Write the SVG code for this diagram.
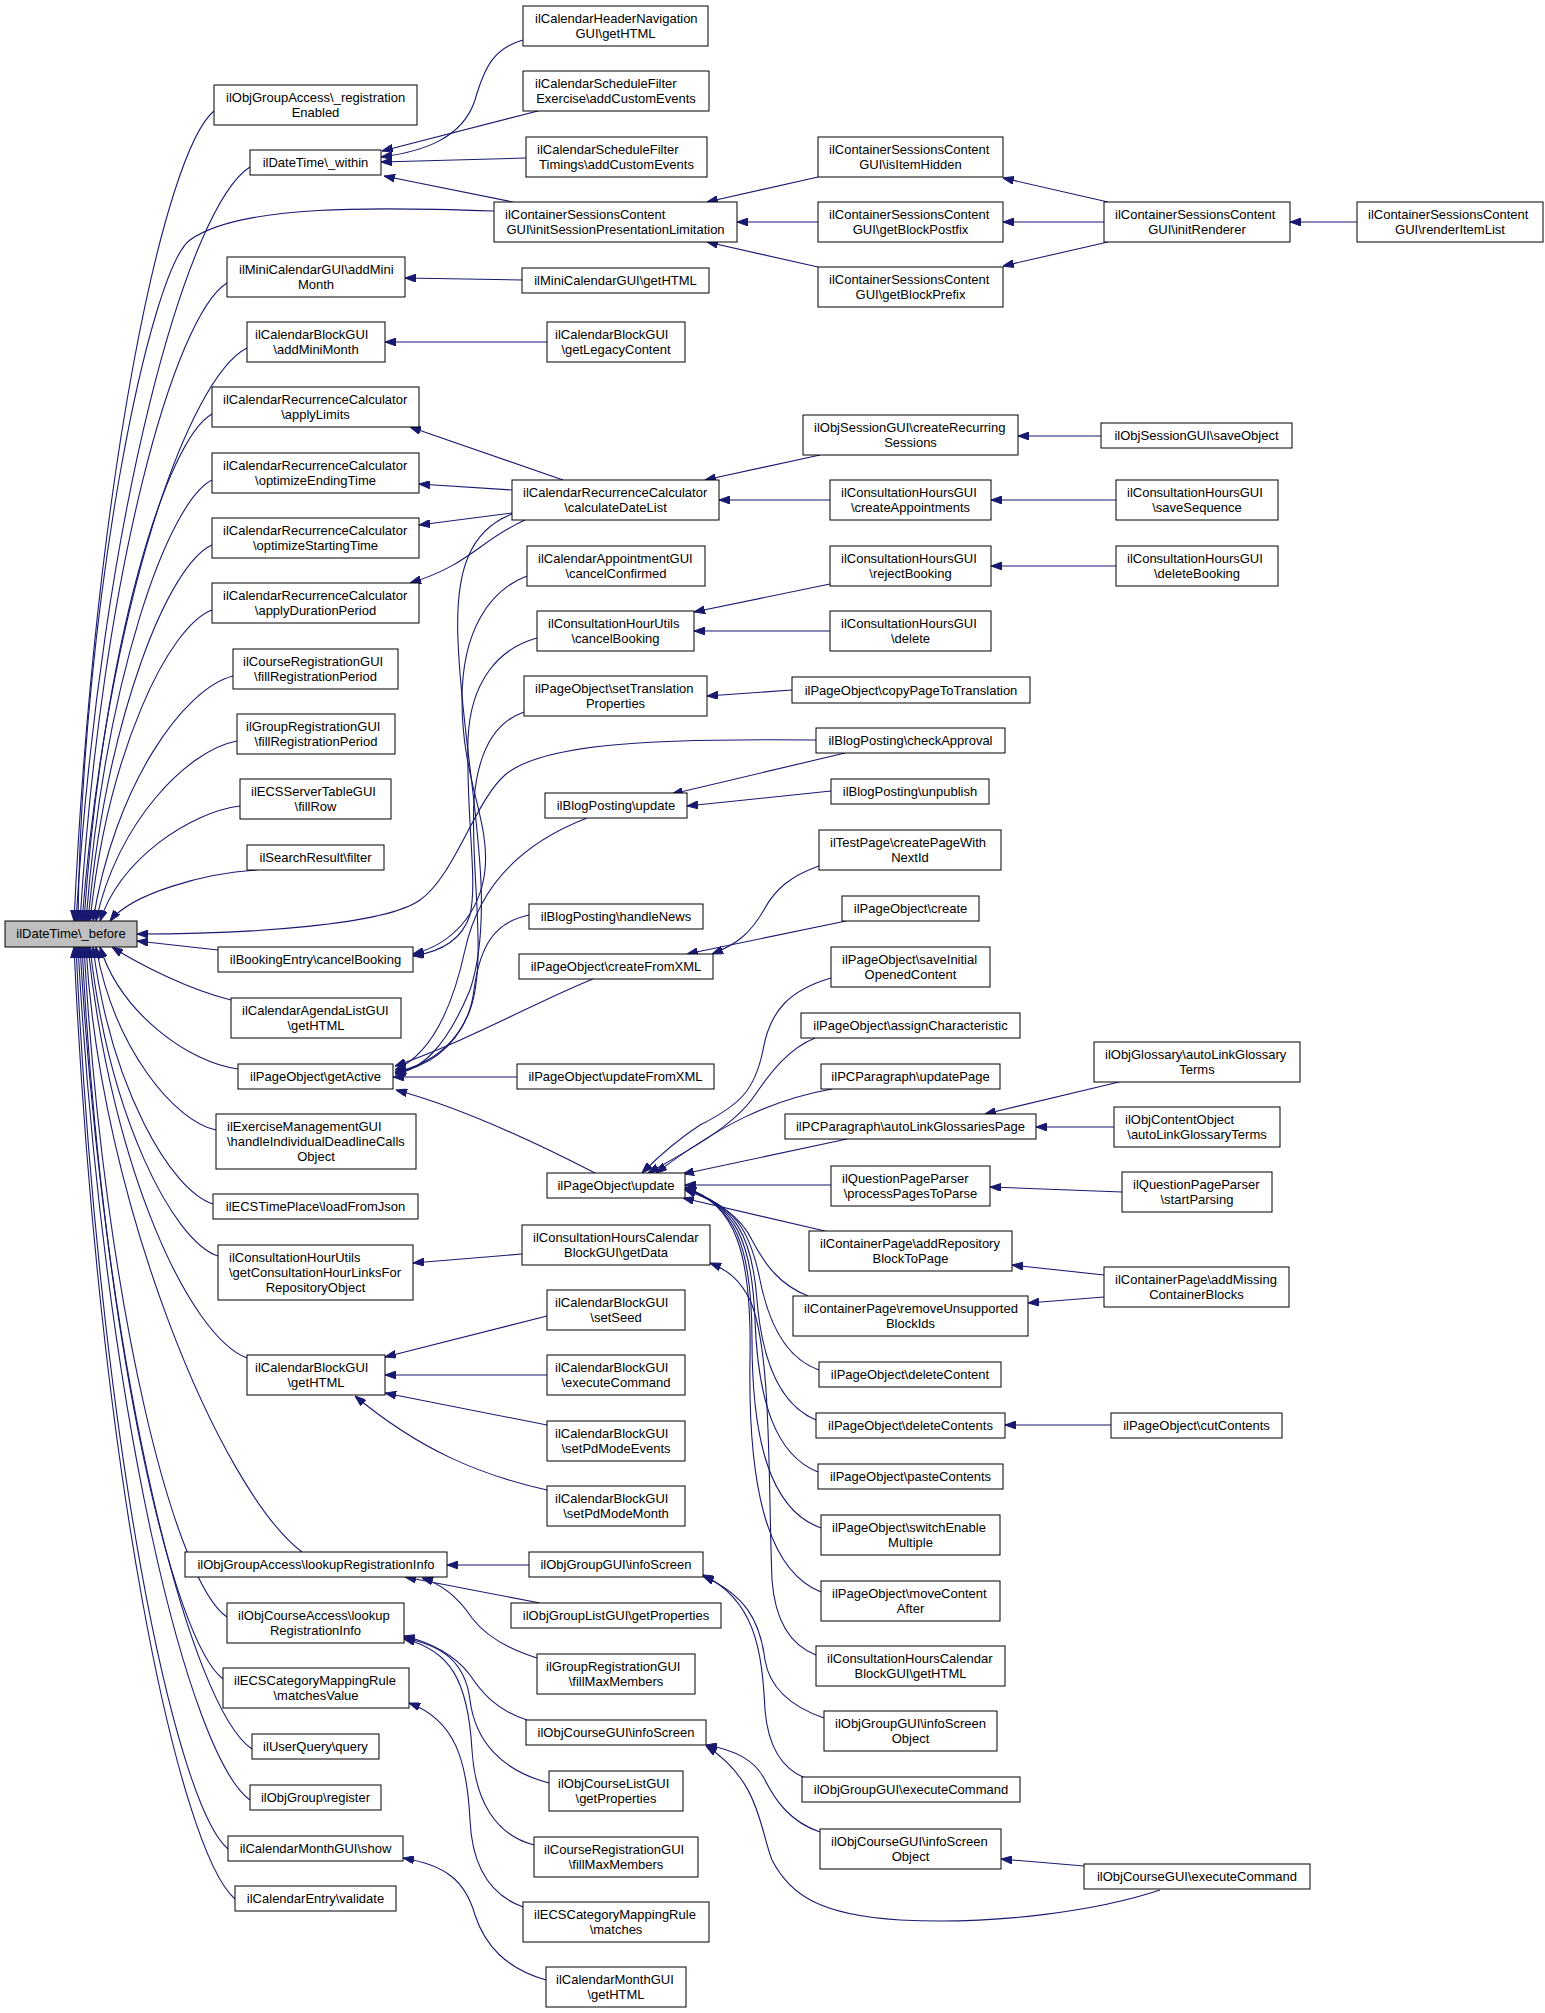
<svg xmlns="http://www.w3.org/2000/svg" width="1545" height="2013" viewBox="0 0 1545 2013">
<defs>
<style>
rect{fill:#fff;stroke:#000;stroke-width:1}
.root rect{fill:#bfbfbf}
text{font-family:"Liberation Sans",Arial,Helvetica,sans-serif;font-size:13px;fill:#000}
.c{text-anchor:middle}
.l{text-anchor:start}
#edges path{fill:none;stroke:#191970;stroke-width:1.1;marker-end:url(#ah)}
</style>
<marker id="ah" viewBox="0 0 11 8" refX="11" refY="4" markerWidth="11" markerHeight="8" markerUnits="userSpaceOnUse" orient="auto"><path d="M0,0 L11,4 L0,8 z" fill="#191970" stroke="#191970" stroke-width="1"/></marker>
</defs>
<rect x="0" y="0" width="1545" height="2013" style="fill:#fff;stroke:none"/>
<g id="edges">
<path d="M214,111 C165,151 95,475 74,921"/>
<path d="M250,167 C189,205 102,506 76,921"/>
<path d="M494,211 C380,207 240,204 190,240 C150,269 82,600 78,921"/>
<path d="M227,283 C175,315 102,570 80,921"/>
<path d="M247,348 C189,377 107,606 82,921"/>
<path d="M212,414 C167,439 103,642 84,921"/>
<path d="M212,480 C168,502 105,678 86,921"/>
<path d="M212,545 C169,564 107,714 88,921"/>
<path d="M212,610 C169,626 108,750 90,921"/>
<path d="M233,676 C184,688 114,786 93,921"/>
<path d="M237,741 C188,750 117,822 96,921"/>
<path d="M240,806 C191,812 121,858 100,921"/>
<path d="M257,870 C206,873 132,893 110,921"/>
<path d="M816,740 C640,738 540,745 505,775 C475,801 455,875 420,900 C385,925 250,934 137,934"/>
<path d="M218,950 L137,941"/>
<path d="M231,1000 C190,990 140,965 112,947"/>
<path d="M238,1069 C190,1063 121,1014 100,947"/>
<path d="M216,1130 C174,1121 114,1048 96,947"/>
<path d="M213,1204 C171,1191 111,1088 93,947"/>
<path d="M218,1256 C173,1241 109,1117 90,947"/>
<path d="M247,1358 C191,1337 112,1173 88,947"/>
<path d="M302,1552 C220,1490 100,1200 86,947"/>
<path d="M227,1617 C177,1584 105,1316 84,947"/>
<path d="M223,1679 C174,1642 103,1350 82,947"/>
<path d="M252,1749 C192,1709 106,1388 80,947"/>
<path d="M250,1800 C190,1757 104,1416 78,947"/>
<path d="M228,1849 C175,1804 99,1443 76,947"/>
<path d="M235,1899 C179,1851 98,1471 74,947"/>
<path d="M523,40 C495,48 485,65 475,100 C462,140 420,152 381,157"/>
<path d="M538,111 L382,151"/>
<path d="M526,158 L381,162"/>
<path d="M513,202 L384,176"/>
<path d="M818,177 L707,202"/>
<path d="M818,222 L737,222"/>
<path d="M818,267 L707,242"/>
<path d="M1108,202 L1003,178"/>
<path d="M1104,222 L1003,222"/>
<path d="M1108,242 L1003,266"/>
<path d="M1357,222 L1290,222"/>
<path d="M522,280 L405,278"/>
<path d="M547,342 L385,342"/>
<path d="M563,480 L410,427"/>
<path d="M512,490 L419,484"/>
<path d="M512,513 L419,525"/>
<path d="M525,520 C480,540 470,565 410,583"/>
<path d="M512,514 C470,530 455,570 458,640 C462,760 500,900 470,990 C445,1050 420,1070 395,1074"/>
<path d="M820,455 L705,480"/>
<path d="M830,500 L719,500"/>
<path d="M1101,436 L1018,436"/>
<path d="M1116,500 L991,500"/>
<path d="M1116,566 L991,566"/>
<path d="M830,584 L694,612"/>
<path d="M830,631 L694,631"/>
<path d="M527,576 C490,590 462,630 462,700 C462,780 490,820 485,870 C480,915 450,945 413,954"/>
<path d="M537,638 C500,648 470,680 468,740 C466,820 478,880 470,915 C462,940 440,952 413,956"/>
<path d="M792,690 L707,696"/>
<path d="M524,712 C495,722 478,750 474,800 C470,870 488,960 470,1010 C455,1050 425,1068 395,1072"/>
<path d="M845,753 L672,794"/>
<path d="M831,791 L687,806"/>
<path d="M587,818 C530,840 480,880 465,950 C452,1010 430,1055 395,1070"/>
<path d="M529,915 C495,922 480,945 474,990 C468,1040 430,1065 395,1072"/>
<path d="M593,979 C540,1000 470,1040 395,1066"/>
<path d="M517,1077 L393,1077"/>
<path d="M595,1173 C560,1155 470,1110 396,1090"/>
<path d="M819,866 C790,876 775,890 765,908 C750,935 735,945 712,954"/>
<path d="M846,921 L687,954"/>
<path d="M831,978 C790,990 770,1010 763,1050 C755,1090 740,1105 700,1125 C680,1138 660,1155 642,1173"/>
<path d="M815,1038 C790,1048 772,1070 755,1095 C735,1125 690,1150 648,1173"/>
<path d="M832,1089 C770,1100 720,1125 656,1173"/>
<path d="M847,1139 L683,1174"/>
<path d="M831,1185 L685,1185"/>
<path d="M825,1231 L683,1198"/>
<path d="M808,1296 C780,1285 765,1265 752,1240 C740,1215 715,1200 685,1190"/>
<path d="M819,1370 C790,1360 770,1330 760,1280 C750,1230 735,1205 685,1189"/>
<path d="M816,1420 C780,1405 762,1360 757,1300 C752,1235 735,1205 685,1189"/>
<path d="M818,1472 C775,1455 758,1400 755,1320 C752,1240 735,1205 685,1188"/>
<path d="M821,1528 C770,1510 752,1440 752,1340 C752,1245 735,1205 685,1188"/>
<path d="M821,1592 C765,1570 748,1480 750,1360 C752,1250 735,1205 685,1187"/>
<path d="M1111,1425 L1005,1425"/>
<path d="M1119,1082 L985,1114"/>
<path d="M1114,1127 L1036,1127"/>
<path d="M1122,1192 L990,1187"/>
<path d="M1104,1275 L1012,1265"/>
<path d="M1104,1297 L1028,1303"/>
<path d="M522,1254 L413,1263"/>
<path d="M816,1655 C790,1645 775,1620 772,1580 C768,1480 772,1350 750,1300 C740,1280 728,1270 710,1263"/>
<path d="M547,1316 L385,1357"/>
<path d="M547,1375 L385,1375"/>
<path d="M547,1425 L385,1393"/>
<path d="M547,1490 C480,1475 420,1450 355,1396"/>
<path d="M529,1565 L447,1565"/>
<path d="M540,1603 L405,1577"/>
<path d="M537,1658 C505,1648 485,1635 472,1618 C460,1600 445,1585 422,1578"/>
<path d="M527,1720 C495,1710 480,1690 470,1675 C455,1655 430,1642 404,1636"/>
<path d="M549,1783 C500,1770 475,1740 470,1700 C465,1660 440,1645 404,1638"/>
<path d="M534,1845 C495,1835 475,1800 472,1750 C468,1680 450,1650 404,1639"/>
<path d="M523,1907 C490,1895 472,1865 470,1820 C467,1760 455,1720 409,1703"/>
<path d="M546,1980 C505,1968 485,1945 475,1915 C465,1880 445,1865 403,1858"/>
<path d="M824,1718 C795,1708 770,1690 765,1660 C760,1620 745,1595 703,1576"/>
<path d="M805,1778 C780,1768 768,1745 765,1710 C762,1650 755,1600 703,1575"/>
<path d="M820,1832 C790,1822 775,1800 765,1780 C755,1760 735,1750 706,1745"/>
<path d="M1160,1890 C1100,1910 1000,1925 900,1920 C820,1915 790,1895 772,1860 C760,1830 760,1780 706,1746"/>
<path d="M1084,1866 L1001,1859"/>
</g>
<g id="n_before" class="root"><rect x="5" y="921" width="132" height="26"/><text class="c" x="71" y="938">ilDateTime\_before</text></g>
<g id="n_regEnabled"><rect x="214" y="85" width="203" height="40"/><text class="l" x="226" y="101.5">ilObjGroupAccess\_registration</text><text class="c" x="315.5" y="116.5">Enabled</text></g>
<g id="n_within"><rect x="250" y="150" width="131" height="25"/><text class="c" x="315.5" y="167">ilDateTime\_within</text></g>
<g id="n_miniAddMini"><rect x="227" y="257" width="178" height="40"/><text class="l" x="239" y="273.5">ilMiniCalendarGUI\addMini</text><text class="c" x="316" y="288.5">Month</text></g>
<g id="n_cbgAddMini"><rect x="247" y="322" width="138" height="40"/><text class="l" x="255" y="338.5">ilCalendarBlockGUI</text><text class="c" x="316" y="353.5">\addMiniMonth</text></g>
<g id="n_applyLimits"><rect x="212" y="387" width="207" height="40"/><text class="l" x="223" y="403.5">ilCalendarRecurrenceCalculator</text><text class="c" x="315.5" y="418.5">\applyLimits</text></g>
<g id="n_optEnd"><rect x="212" y="453" width="207" height="40"/><text class="l" x="223" y="469.5">ilCalendarRecurrenceCalculator</text><text class="c" x="315.5" y="484.5">\optimizeEndingTime</text></g>
<g id="n_optStart"><rect x="212" y="518" width="207" height="40"/><text class="l" x="223" y="534.5">ilCalendarRecurrenceCalculator</text><text class="c" x="315.5" y="549.5">\optimizeStartingTime</text></g>
<g id="n_applyDur"><rect x="212" y="583" width="207" height="40"/><text class="l" x="223" y="599.5">ilCalendarRecurrenceCalculator</text><text class="c" x="315.5" y="614.5">\applyDurationPeriod</text></g>
<g id="n_courseRegPeriod"><rect x="233" y="649" width="165" height="40"/><text class="l" x="243" y="665.5">ilCourseRegistrationGUI</text><text class="c" x="315.5" y="680.5">\fillRegistrationPeriod</text></g>
<g id="n_groupRegPeriod"><rect x="237" y="714" width="158" height="40"/><text class="l" x="246" y="730.5">ilGroupRegistrationGUI</text><text class="c" x="316" y="745.5">\fillRegistrationPeriod</text></g>
<g id="n_ecsFillRow"><rect x="240" y="779" width="151" height="40"/><text class="l" x="251" y="795.5">ilECSServerTableGUI</text><text class="c" x="315.5" y="810.5">\fillRow</text></g>
<g id="n_searchFilter"><rect x="247" y="845" width="137" height="25"/><text class="c" x="315.5" y="862">ilSearchResult\filter</text></g>
<g id="n_bookingCancel"><rect x="218" y="947" width="195" height="25"/><text class="c" x="315.5" y="964">ilBookingEntry\cancelBooking</text></g>
<g id="n_agenda"><rect x="231" y="998" width="170" height="40"/><text class="l" x="242" y="1014.5">ilCalendarAgendaListGUI</text><text class="c" x="316" y="1029.5">\getHTML</text></g>
<g id="n_getActive"><rect x="238" y="1064" width="155" height="25"/><text class="c" x="315.5" y="1081">ilPageObject\getActive</text></g>
<g id="n_exercise"><rect x="216" y="1114" width="200" height="55"/><text class="l" x="227" y="1131">ilExerciseManagementGUI</text><text class="l" x="227" y="1146">\handleIndividualDeadlineCalls</text><text class="c" x="316" y="1161">Object</text></g>
<g id="n_ecsLoad"><rect x="213" y="1194" width="205" height="25"/><text class="c" x="315.5" y="1211">ilECSTimePlace\loadFromJson</text></g>
<g id="n_consLinks"><rect x="218" y="1245" width="195" height="55"/><text class="l" x="229" y="1262">ilConsultationHourUtils</text><text class="l" x="229" y="1277">\getConsultationHourLinksFor</text><text class="c" x="315.5" y="1292">RepositoryObject</text></g>
<g id="n_cbgGetHTML"><rect x="247" y="1355" width="138" height="40"/><text class="l" x="255" y="1371.5">ilCalendarBlockGUI</text><text class="c" x="316" y="1386.5">\getHTML</text></g>
<g id="n_groupLookup"><rect x="185" y="1552" width="262" height="25"/><text class="c" x="316" y="1569">ilObjGroupAccess\lookupRegistrationInfo</text></g>
<g id="n_courseLookup"><rect x="227" y="1603" width="177" height="40"/><text class="l" x="238" y="1619.5">ilObjCourseAccess\lookup</text><text class="c" x="315.5" y="1634.5">RegistrationInfo</text></g>
<g id="n_matchesValue"><rect x="223" y="1668" width="186" height="40"/><text class="l" x="234" y="1684.5">ilECSCategoryMappingRule</text><text class="c" x="316" y="1699.5">\matchesValue</text></g>
<g id="n_userQuery"><rect x="252" y="1734" width="127" height="25"/><text class="c" x="315.5" y="1751">ilUserQuery\query</text></g>
<g id="n_groupRegister"><rect x="250" y="1785" width="131" height="25"/><text class="c" x="315.5" y="1802">ilObjGroup\register</text></g>
<g id="n_monthShow"><rect x="228" y="1836" width="175" height="25"/><text class="c" x="315.5" y="1853">ilCalendarMonthGUI\show</text></g>
<g id="n_entryValidate"><rect x="235" y="1886" width="161" height="25"/><text class="c" x="315.5" y="1903">ilCalendarEntry\validate</text></g>
<g id="n_headerNav"><rect x="523" y="6" width="185" height="40"/><text class="l" x="535" y="22.5">ilCalendarHeaderNavigation</text><text class="c" x="615.5" y="37.5">GUI\getHTML</text></g>
<g id="n_schedExercise"><rect x="523" y="71" width="186" height="40"/><text class="l" x="535" y="87.5">ilCalendarScheduleFilter</text><text class="c" x="616" y="102.5">Exercise\addCustomEvents</text></g>
<g id="n_schedTimings"><rect x="526" y="137" width="181" height="40"/><text class="l" x="537" y="153.5">ilCalendarScheduleFilter</text><text class="c" x="616.5" y="168.5">Timings\addCustomEvents</text></g>
<g id="n_initSession"><rect x="494" y="202" width="243" height="40"/><text class="l" x="505" y="218.5">ilContainerSessionsContent</text><text class="c" x="615.5" y="233.5">GUI\initSessionPresentationLimitation</text></g>
<g id="n_miniGetHTML"><rect x="522" y="268" width="187" height="25"/><text class="c" x="615.5" y="285">ilMiniCalendarGUI\getHTML</text></g>
<g id="n_legacy"><rect x="547" y="322" width="138" height="40"/><text class="l" x="555" y="338.5">ilCalendarBlockGUI</text><text class="c" x="616" y="353.5">\getLegacyContent</text></g>
<g id="n_calcDateList"><rect x="512" y="480" width="207" height="40"/><text class="l" x="523" y="496.5">ilCalendarRecurrenceCalculator</text><text class="c" x="615.5" y="511.5">\calculateDateList</text></g>
<g id="n_cancelConfirmed"><rect x="527" y="546" width="178" height="40"/><text class="l" x="538" y="562.5">ilCalendarAppointmentGUI</text><text class="c" x="616" y="577.5">\cancelConfirmed</text></g>
<g id="n_utilsCancel"><rect x="537" y="611" width="157" height="40"/><text class="l" x="548" y="627.5">ilConsultationHourUtils</text><text class="c" x="615.5" y="642.5">\cancelBooking</text></g>
<g id="n_setTransl"><rect x="524" y="676" width="183" height="40"/><text class="l" x="535" y="692.5">ilPageObject\setTranslation</text><text class="c" x="615.5" y="707.5">Properties</text></g>
<g id="n_blogUpdate"><rect x="545" y="793" width="142" height="25"/><text class="c" x="616" y="810">ilBlogPosting\update</text></g>
<g id="n_handleNews"><rect x="529" y="904" width="174" height="25"/><text class="c" x="616" y="921">ilBlogPosting\handleNews</text></g>
<g id="n_createFromXML"><rect x="519" y="954" width="194" height="25"/><text class="c" x="616" y="971">ilPageObject\createFromXML</text></g>
<g id="n_updateFromXML"><rect x="517" y="1064" width="197" height="25"/><text class="c" x="615.5" y="1081">ilPageObject\updateFromXML</text></g>
<g id="n_pageUpdate"><rect x="547" y="1173" width="138" height="25"/><text class="c" x="616" y="1190">ilPageObject\update</text></g>
<g id="n_chGetData"><rect x="522" y="1225" width="188" height="40"/><text class="l" x="533" y="1241.5">ilConsultationHoursCalendar</text><text class="c" x="616" y="1256.5">BlockGUI\getData</text></g>
<g id="n_setSeed"><rect x="547" y="1290" width="138" height="40"/><text class="l" x="555" y="1306.5">ilCalendarBlockGUI</text><text class="c" x="616" y="1321.5">\setSeed</text></g>
<g id="n_cbgExec"><rect x="547" y="1355" width="138" height="40"/><text class="l" x="555" y="1371.5">ilCalendarBlockGUI</text><text class="c" x="616" y="1386.5">\executeCommand</text></g>
<g id="n_setPdEvents"><rect x="547" y="1421" width="138" height="40"/><text class="l" x="555" y="1437.5">ilCalendarBlockGUI</text><text class="c" x="616" y="1452.5">\setPdModeEvents</text></g>
<g id="n_setPdMonth"><rect x="547" y="1486" width="138" height="40"/><text class="l" x="555" y="1502.5">ilCalendarBlockGUI</text><text class="c" x="616" y="1517.5">\setPdModeMonth</text></g>
<g id="n_groupInfoScreen"><rect x="529" y="1552" width="174" height="25"/><text class="c" x="616" y="1569">ilObjGroupGUI\infoScreen</text></g>
<g id="n_groupListProps"><rect x="511" y="1603" width="210" height="25"/><text class="c" x="616" y="1620">ilObjGroupListGUI\getProperties</text></g>
<g id="n_groupRegMax"><rect x="537" y="1654" width="158" height="40"/><text class="l" x="546" y="1670.5">ilGroupRegistrationGUI</text><text class="c" x="616" y="1685.5">\fillMaxMembers</text></g>
<g id="n_courseInfoScreen"><rect x="526" y="1720" width="180" height="25"/><text class="c" x="616" y="1737">ilObjCourseGUI\infoScreen</text></g>
<g id="n_courseListProps"><rect x="549" y="1771" width="134" height="40"/><text class="l" x="558" y="1787.5">ilObjCourseListGUI</text><text class="c" x="616" y="1802.5">\getProperties</text></g>
<g id="n_courseRegMax"><rect x="534" y="1837" width="164" height="40"/><text class="l" x="544" y="1853.5">ilCourseRegistrationGUI</text><text class="c" x="616" y="1868.5">\fillMaxMembers</text></g>
<g id="n_matches"><rect x="523" y="1902" width="186" height="40"/><text class="l" x="534" y="1918.5">ilECSCategoryMappingRule</text><text class="c" x="616" y="1933.5">\matches</text></g>
<g id="n_monthGetHTML"><rect x="546" y="1967" width="140" height="40"/><text class="l" x="556" y="1983.5">ilCalendarMonthGUI</text><text class="c" x="616" y="1998.5">\getHTML</text></g>
<g id="n_isItemHidden"><rect x="818" y="137" width="185" height="40"/><text class="l" x="829" y="153.5">ilContainerSessionsContent</text><text class="c" x="910.5" y="168.5">GUI\isItemHidden</text></g>
<g id="n_getBlockPostfix"><rect x="818" y="202" width="185" height="40"/><text class="l" x="829" y="218.5">ilContainerSessionsContent</text><text class="c" x="910.5" y="233.5">GUI\getBlockPostfix</text></g>
<g id="n_getBlockPrefix"><rect x="818" y="267" width="185" height="40"/><text class="l" x="829" y="283.5">ilContainerSessionsContent</text><text class="c" x="910.5" y="298.5">GUI\getBlockPrefix</text></g>
<g id="n_createRecurring"><rect x="803" y="415" width="215" height="40"/><text class="l" x="814" y="431.5">ilObjSessionGUI\createRecurring</text><text class="c" x="910.5" y="446.5">Sessions</text></g>
<g id="n_createAppointments"><rect x="830" y="480" width="161" height="40"/><text class="l" x="841" y="496.5">ilConsultationHoursGUI</text><text class="c" x="910.5" y="511.5">\createAppointments</text></g>
<g id="n_rejectBooking"><rect x="830" y="546" width="161" height="40"/><text class="l" x="841" y="562.5">ilConsultationHoursGUI</text><text class="c" x="910.5" y="577.5">\rejectBooking</text></g>
<g id="n_chDelete"><rect x="830" y="611" width="161" height="40"/><text class="l" x="841" y="627.5">ilConsultationHoursGUI</text><text class="c" x="910.5" y="642.5">\delete</text></g>
<g id="n_copyPage"><rect x="792" y="677" width="238" height="26"/><text class="c" x="911" y="694.5">ilPageObject\copyPageToTranslation</text></g>
<g id="n_checkApproval"><rect x="816" y="728" width="189" height="25"/><text class="c" x="910.5" y="745">ilBlogPosting\checkApproval</text></g>
<g id="n_unpublish"><rect x="831" y="779" width="158" height="25"/><text class="c" x="910" y="796">ilBlogPosting\unpublish</text></g>
<g id="n_createPageWithNextId"><rect x="819" y="830" width="182" height="40"/><text class="l" x="830" y="846.5">ilTestPage\createPageWith</text><text class="c" x="910" y="861.5">NextId</text></g>
<g id="n_pageCreate"><rect x="842" y="896" width="137" height="25"/><text class="c" x="910.5" y="913">ilPageObject\create</text></g>
<g id="n_saveInitial"><rect x="831" y="947" width="159" height="40"/><text class="l" x="842" y="963.5">ilPageObject\saveInitial</text><text class="c" x="910.5" y="978.5">OpenedContent</text></g>
<g id="n_assignChar"><rect x="801" y="1013" width="219" height="25"/><text class="c" x="910.5" y="1030">ilPageObject\assignCharacteristic</text></g>
<g id="n_pcUpdatePage"><rect x="821" y="1064" width="179" height="25"/><text class="c" x="910.5" y="1081">ilPCParagraph\updatePage</text></g>
<g id="n_autoLinkPage"><rect x="785" y="1114" width="251" height="25"/><text class="c" x="910.5" y="1131">ilPCParagraph\autoLinkGlossariesPage</text></g>
<g id="n_processPages"><rect x="831" y="1166" width="159" height="40"/><text class="l" x="842" y="1182.5">ilQuestionPageParser</text><text class="c" x="910.5" y="1197.5">\processPagesToParse</text></g>
<g id="n_addRepoBlock"><rect x="809" y="1231" width="203" height="40"/><text class="l" x="820" y="1247.5">ilContainerPage\addRepository</text><text class="c" x="910.5" y="1262.5">BlockToPage</text></g>
<g id="n_removeUnsupported"><rect x="793" y="1296" width="235" height="40"/><text class="l" x="804" y="1312.5">ilContainerPage\removeUnsupported</text><text class="c" x="910.5" y="1327.5">BlockIds</text></g>
<g id="n_deleteContent"><rect x="819" y="1362" width="182" height="25"/><text class="c" x="910" y="1379">ilPageObject\deleteContent</text></g>
<g id="n_deleteContents"><rect x="816" y="1413" width="189" height="25"/><text class="c" x="910.5" y="1430">ilPageObject\deleteContents</text></g>
<g id="n_pasteContents"><rect x="818" y="1464" width="185" height="25"/><text class="c" x="910.5" y="1481">ilPageObject\pasteContents</text></g>
<g id="n_switchEnable"><rect x="821" y="1515" width="179" height="40"/><text class="l" x="832" y="1531.5">ilPageObject\switchEnable</text><text class="c" x="910.5" y="1546.5">Multiple</text></g>
<g id="n_moveContent"><rect x="821" y="1581" width="179" height="40"/><text class="l" x="832" y="1597.5">ilPageObject\moveContent</text><text class="c" x="910.5" y="1612.5">After</text></g>
<g id="n_chGetHTML"><rect x="816" y="1646" width="189" height="40"/><text class="l" x="827" y="1662.5">ilConsultationHoursCalendar</text><text class="c" x="910.5" y="1677.5">BlockGUI\getHTML</text></g>
<g id="n_groupInfoObj"><rect x="824" y="1711" width="173" height="40"/><text class="l" x="835" y="1727.5">ilObjGroupGUI\infoScreen</text><text class="c" x="910.5" y="1742.5">Object</text></g>
<g id="n_groupExec"><rect x="802" y="1777" width="218" height="25"/><text class="c" x="911" y="1794">ilObjGroupGUI\executeCommand</text></g>
<g id="n_courseInfoObj"><rect x="820" y="1829" width="181" height="40"/><text class="l" x="831" y="1845.5">ilObjCourseGUI\infoScreen</text><text class="c" x="910.5" y="1860.5">Object</text></g>
<g id="n_initRenderer"><rect x="1104" y="202" width="186" height="40"/><text class="l" x="1115" y="218.5">ilContainerSessionsContent</text><text class="c" x="1197" y="233.5">GUI\initRenderer</text></g>
<g id="n_saveObject"><rect x="1101" y="423" width="191" height="25"/><text class="c" x="1196.5" y="440">ilObjSessionGUI\saveObject</text></g>
<g id="n_saveSequence"><rect x="1116" y="480" width="162" height="40"/><text class="l" x="1127" y="496.5">ilConsultationHoursGUI</text><text class="c" x="1197" y="511.5">\saveSequence</text></g>
<g id="n_deleteBooking"><rect x="1116" y="546" width="162" height="40"/><text class="l" x="1127" y="562.5">ilConsultationHoursGUI</text><text class="c" x="1197" y="577.5">\deleteBooking</text></g>
<g id="n_glossaryTerms"><rect x="1094" y="1042" width="206" height="40"/><text class="l" x="1105" y="1058.5">ilObjGlossary\autoLinkGlossary</text><text class="c" x="1197" y="1073.5">Terms</text></g>
<g id="n_contentObjTerms"><rect x="1114" y="1107" width="166" height="40"/><text class="l" x="1125" y="1123.5">ilObjContentObject</text><text class="c" x="1197" y="1138.5">\autoLinkGlossaryTerms</text></g>
<g id="n_startParsing"><rect x="1122" y="1172" width="150" height="40"/><text class="l" x="1133" y="1188.5">ilQuestionPageParser</text><text class="c" x="1197" y="1203.5">\startParsing</text></g>
<g id="n_addMissing"><rect x="1104" y="1267" width="185" height="40"/><text class="l" x="1115" y="1283.5">ilContainerPage\addMissing</text><text class="c" x="1196.5" y="1298.5">ContainerBlocks</text></g>
<g id="n_cutContents"><rect x="1111" y="1413" width="171" height="25"/><text class="c" x="1196.5" y="1430">ilPageObject\cutContents</text></g>
<g id="n_courseExec"><rect x="1084" y="1864" width="226" height="25"/><text class="c" x="1197" y="1881">ilObjCourseGUI\executeCommand</text></g>
<g id="n_renderItemList"><rect x="1357" y="202" width="186" height="40"/><text class="l" x="1368" y="218.5">ilContainerSessionsContent</text><text class="c" x="1450" y="233.5">GUI\renderItemList</text></g>
</svg>
